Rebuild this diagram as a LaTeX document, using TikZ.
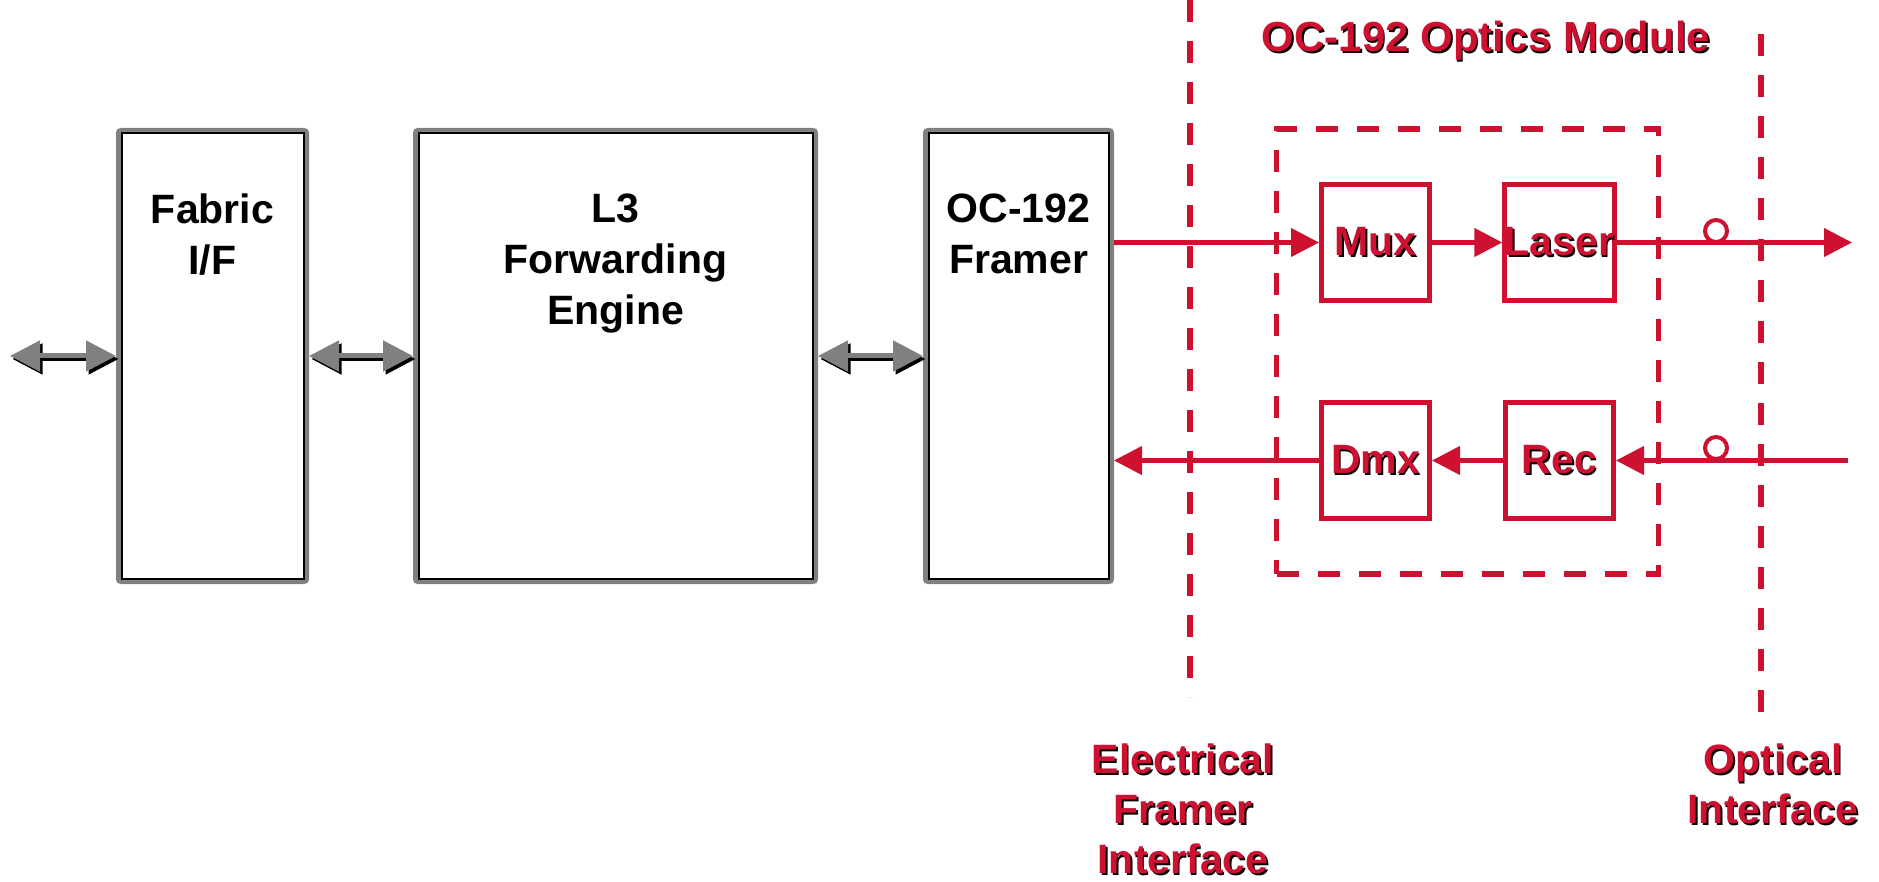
\documentclass[tikz,border=0pt]{standalone}
\usepackage{fontspec}
\setmainfont{Liberation Sans}
\usepackage{xcolor}
\usepackage{tikz}
\usetikzlibrary{positioning, arrows.meta, fit}
\definecolor{optRed}{HTML}{CE1131}
\definecolor{boxGray}{HTML}{808080}
\newcommand{\shdw}[1]{\rlap{\hspace{1.5pt}\raisebox{-1.5pt}{\color{black}#1}}#1}

\begin{document}
\begin{tikzpicture}[x=1pt, y=-1pt, font=\fontsize{41}{51}\selectfont\bfseries,
    blk/.style={rectangle, rounded corners=2pt, draw=boxGray, line width=6pt,
                minimum height=450pt, inner sep=0pt},
    blktxt/.style={align=center, inner sep=0pt},
    opt/.style={rectangle, draw=optRed, line width=5pt, minimum width=108pt,
                minimum height=116pt, inner sep=0pt, text=optRed},
    gtips/.style={line width=5pt,
                  {Triangle[length=30pt,width=30pt]}-{Triangle[length=30pt,width=30pt]}},
    gshadow/.style={gtips, draw=black, transform canvas={shift={(2.5pt,-3pt)}}},
    garrow/.style={gtips, draw=boxGray},
    rarrow/.style={draw=optRed, line width=4.5pt, -{Triangle[length=28pt,width=28pt]}},
    rdash/.style={draw=optRed, line width=5.5pt, dash pattern=on 22pt off 19pt},
    ring/.style={circle, draw=optRed, line width=4pt, minimum size=22pt, inner sep=0pt},
    rlbl/.style={text=optRed, align=center, inner sep=0pt, anchor=north,
                 font=\fontsize{41}{50}\selectfont\bfseries}]
  \useasboundingbox (0,0) rectangle (1879,882);

  % line cards
  \node[blk, minimum width=187pt] (fab) at (212.5,356) {};
  \node[blk, minimum width=399pt] (l3) at (615.5,356) {};
  \node[blk, minimum width=185pt] (frm) at (1018.5,356) {};
  \foreach \b in {fab,l3,frm}
    \draw[line width=2pt] ([xshift=5.5pt,yshift=-5.5pt]\b.north west)
      rectangle ([xshift=-5.5pt,yshift=5.5pt]\b.south east);
  \node[blktxt, below=66pt of fab.north] (fabt) {Fabric\\I/F};
  \node[blktxt, below=66pt of l3.north] (l3t) {L3\\Forwarding\\Engine};
  \node[blktxt, below=66pt of frm.north] (frmt) {OC-192\\Framer};

  \coordinate (ext) at (10,356);
  \draw[gshadow] (ext) -- (fab.west);
  \draw[gshadow] (fab.east) -- (l3.west);
  \draw[gshadow] (l3.east) -- (frm.west);
  \draw[garrow] (ext) -- (fab.west);
  \draw[garrow] (fab.east) -- (l3.west);
  \draw[garrow] (l3.east) -- (frm.west);

  % interfaces
  \coordinate (e1a) at (1190,0);
  \coordinate (e1b) at (1190,697);
  \coordinate (o1a) at (1761,34);
  \coordinate (o1b) at (1761,725);
  \draw[rdash] (e1a) -- (e1b);
  \draw[rdash] (o1a) -- (o1b);

  % optics module
  \node[opt] (mux) at (1375.5,242.5) {\shdw{Mux}};
  \node[opt] (las) at (1559.5,242.5) {\shdw{Laser}};
  \node[opt] (dmx) at (1375.5,460.5) {\shdw{Dmx}};
  \node[opt] (rec) at (1559.5,460.5) {\shdw{Rec}};
  \node[rdash, fit=(mux)(rec), inner xsep=42.5pt, inner ysep=53pt] (mod) {};
  \node[text=optRed, font=\fontsize{42}{50}\selectfont\bfseries, anchor=base]
    (ttl) at (1486,52) {\shdw{OC-192 Optics Module}};

  \node[ring] (r1) at (1716,231) {};
  \node[ring] (r2) at (1716,448) {};

  \coordinate (txo) at (1852,242.5);
  \coordinate (rxi) at (1848,460.5);
  \draw[rarrow] (frm.east |- mux.west) -- (mux.west);
  \draw[rarrow] (mux.east) -- (las.west);
  \draw[rarrow] (las.east) -- (txo);
  \draw[rarrow] (rxi) -- (rec.east);
  \draw[rarrow] (rec.west) -- (dmx.east);
  \draw[rarrow] (dmx.west) -- (dmx.west -| frm.east);

  \node[rlbl] (elbl) at (1183,744) {\shdw{Electrical}\\\shdw{Framer}\\\shdw{Interface}};
  \node[rlbl] (olbl) at (1773,744) {\shdw{Optical}\\\shdw{Interface}};
\end{tikzpicture}
\end{document}
